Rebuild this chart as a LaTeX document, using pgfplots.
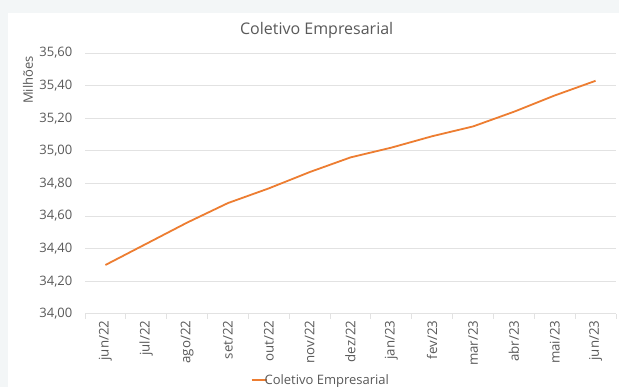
\documentclass[border=0pt]{standalone}
\usepackage{pgfplots}
\pgfplotsset{compat=1.18}
\usepackage{fontspec}
\setmainfont{Open Sans}
\definecolor{txt}{HTML}{595959}
\definecolor{gridc}{HTML}{E2E2E2}
\definecolor{lineor}{HTML}{ED7D31}
\definecolor{bgc}{HTML}{F3F6F7}
\pgfplotstableread{
x y
0 34.30
1 34.43
2 34.56
3 34.68
4 34.77
5 34.87
6 34.96
7 35.02
8 35.09
9 35.15
10 35.24
11 35.34
12 35.43
}\datatable
\begin{document}
\begin{tikzpicture}[x=1pt,y=1pt]
\fill[bgc] (0,0) rectangle (619,387);
\fill[white] (8,0) rectangle (619,374);
\useasboundingbox (0,0) rectangle (619,387);
\node[font=\fontsize{16}{19}\selectfont, text=txt] at (316.7,357) {Coletivo Empresarial};
\node[font=\fontsize{13}{15}\selectfont, text=txt, rotate=90] at (28,307) {Milhões};
\begin{axis}[
  at={(85pt,73.1pt)}, anchor=south west,
  width=531pt, height=260.8pt, scale only axis,
  xmin=-0.5, xmax=12.5, ymin=34, ymax=35.6,
  axis line style={draw=none},
  ymajorgrids, grid style={gridc, line width=0.9pt},
  ytick={34,34.2,34.4,34.6,34.8,35,35.2,35.4,35.6},
  /pgf/number format/fixed, /pgf/number format/fixed zerofill, /pgf/number format/precision=2, /pgf/number format/use comma, /pgf/number format/assume math mode=true,
  yticklabel style={font=\fontsize{13}{15}\selectfont, text=txt, anchor=east, inner sep=0pt, xshift=-12.5pt},
  ytick style={draw=none},
  xtick={0,...,12},
  xticklabels={jun/22,jul/22,ago/22,set/22,out/22,nov/22,dez/22,jan/23,fev/23,mar/23,abr/23,mai/23,jun/23},
  xtick pos=bottom, ytick pos=left,
  xticklabel style={font=\fontsize{13.3}{15}\selectfont, text=txt, rotate=90, anchor=east, inner sep=0pt, xshift=-6.5pt},
  xtick style={draw=none},
  extra x ticks={-0.5,0.5,1.5,2.5,3.5,4.5,5.5,6.5,7.5,8.5,9.5,10.5,11.5,12.5},
  extra x tick labels={},
  extra x tick style={xtick style={draw=gridc, line width=0.9pt}, major tick length=5pt, tick align=outside},
  legend style={at={(0.444,-0.255)}, anchor=center, draw=none, fill=none, font=\fontsize{13}{15}\selectfont, text=txt, inner sep=0pt},
  legend image code/.code={\draw[#1, line width=2pt] (0pt,0pt) -- (15pt,0pt);},
  legend cell align=left,
]
\addplot[lineor, line width=1.8pt, line join=round] table[x=x, y=y] {\datatable};
\addlegendentry{\hspace{-5pt}Coletivo Empresarial}
\end{axis}
\end{tikzpicture}
\end{document}
